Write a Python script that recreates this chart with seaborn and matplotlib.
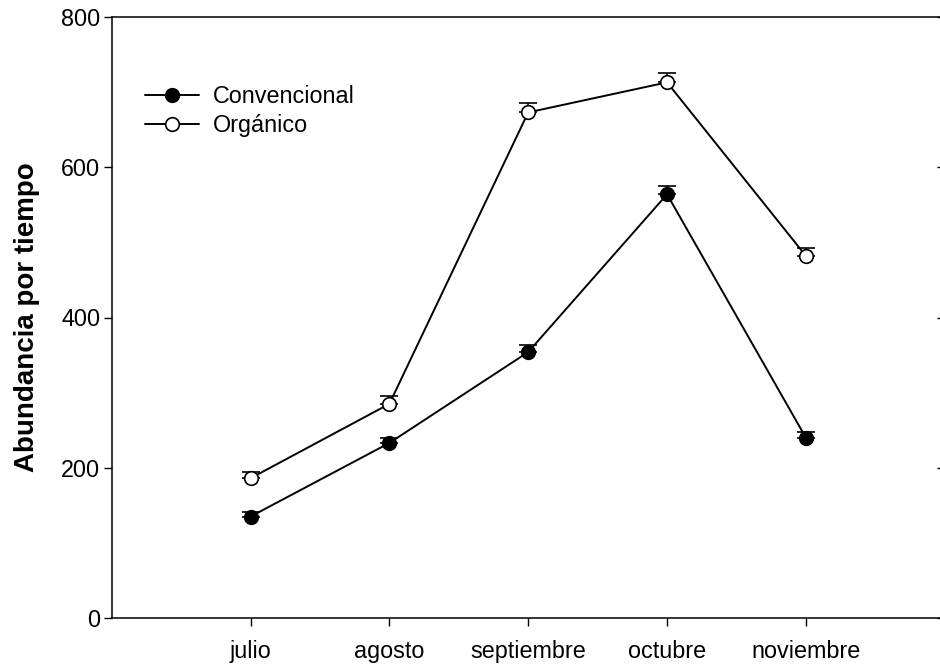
import numpy as np
import pandas as pd
import matplotlib
matplotlib.use("Agg")
import matplotlib.pyplot as plt
import matplotlib.lines as mlines
import seaborn as sns

# Datos
meses = ["julio", "agosto", "septiembre", "octubre", "noviembre"]
convencional = [135, 233, 354, 564, 240]
conv_err = [6, 6, 9, 11, 8]
organico = [186, 285, 673, 713, 482]
org_err = [8, 10, 13, 13, 10]

sns.set_style("ticks")
plt.rcParams["font.family"] = ["Liberation Sans", "DejaVu Sans"]
plt.rcParams.update({"text.color": "black", "axes.labelcolor": "black",
                     "xtick.color": "black", "ytick.color": "black"})

fig = plt.figure(figsize=(9.4, 6.67), dpi=100)
ax = fig.add_axes([111.7 / 940, 1 - 618 / 667, 833 / 940, 601 / 667])

x = np.arange(len(meses))

# Barras de error (solo hacia arriba)
ax.errorbar(x, convencional, yerr=[np.zeros(len(x)), conv_err], fmt="none",
            ecolor="black", elinewidth=1.1, capsize=6.5, capthick=1.2, zorder=2)
ax.errorbar(x, organico, yerr=[np.zeros(len(x)), org_err], fmt="none",
            ecolor="black", elinewidth=1.1, capsize=6.5, capthick=1.2, zorder=2)

sns.lineplot(x=x, y=convencional, ax=ax, color="black", lw=1.4, marker="o",
             markersize=9.8, markerfacecolor="black", markeredgecolor="black",
             markeredgewidth=1.2, label="Convencional", zorder=3)
sns.lineplot(x=x, y=organico, ax=ax, color="black", lw=1.4, marker="o",
             markersize=9.8, markerfacecolor="white", markeredgecolor="black",
             markeredgewidth=1.2, label="Orgánico", zorder=3)

ax.set_xlim(-1, 5)
ax.set_ylim(0, 800)
ax.set_xticks(x)
ax.set_xticklabels(meses)
ax.set_yticks([0, 200, 400, 600, 800])

for s in ax.spines.values():
    s.set_linewidth(1.1)
    s.set_color("black")

ax.tick_params(axis="both", labelsize=16.8, width=1.0, length=5.8, color="black")
ax.tick_params(axis="x", pad=10)
ax.tick_params(axis="y", pad=2.5, right=True)
for t in ax.yaxis.get_major_ticks():
    t.tick2line.set_marker(mlines.TICKLEFT)

ax.set_ylabel("Abundancia por tiempo", fontsize=20, fontweight="bold", labelpad=15)

ax.legend(loc="upper left", bbox_to_anchor=(0.04, 0.887), frameon=False,
          fontsize=16.8, handlelength=2.3, handletextpad=0.6, labelspacing=0.28,
          borderpad=0, borderaxespad=0)

fig.savefig("out.png", dpi=100)
